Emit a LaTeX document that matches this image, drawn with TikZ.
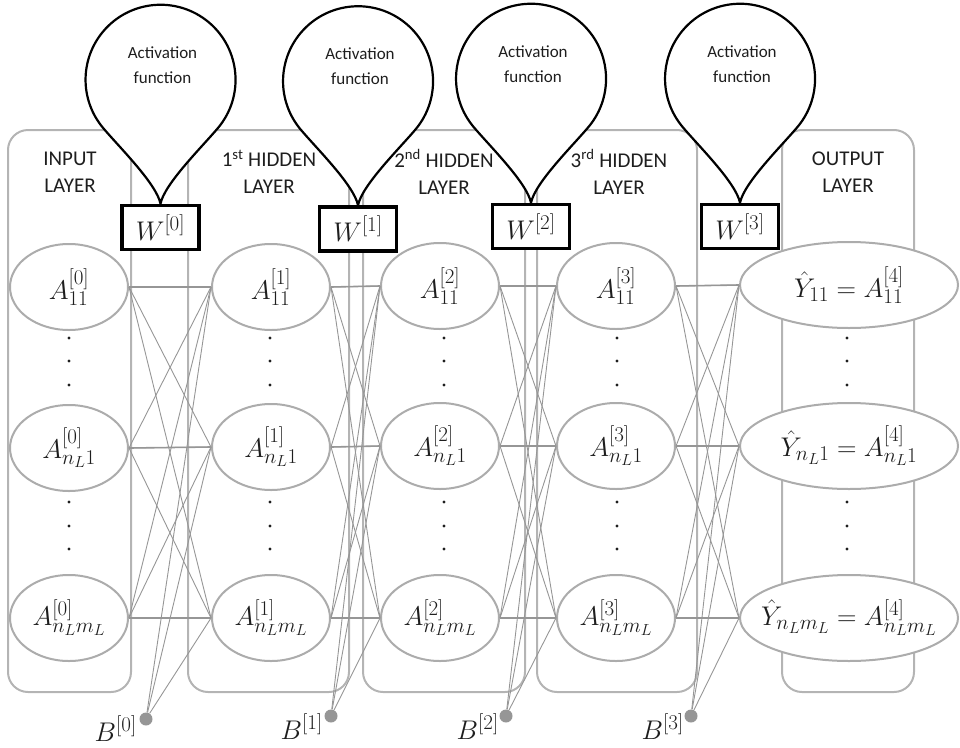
\RequirePackage{fix-cm}
\documentclass[tikz,border=0pt]{standalone}
\usepackage[no-math]{fontspec}
\setmainfont{Carlito}
\usetikzlibrary{shapes.geometric}
\DeclareMathSizes{27}{27}{21}{16}
\definecolor{boxgray}{RGB}{180,180,180}
\definecolor{ellgray}{RGB}{172,172,172}
\definecolor{linegray}{RGB}{150,150,150}
\definecolor{biasgray}{RGB}{150,150,150}
\definecolor{txt}{RGB}{30,30,30}
\pgfdeclarelayer{bg}
\pgfdeclarelayer{mid}
\pgfsetlayers{bg,mid,main}
\begin{document}
\begin{tikzpicture}[x=1pt,y=-1pt,
  layerbox/.style={draw=boxgray, line width=2pt, rounded corners=20pt, minimum height=562pt, inner sep=0pt},
  neuron/.style={ellipse, draw=ellgray, line width=2pt, fill=white, minimum width=118pt, minimum height=86pt, inner sep=0pt, text=txt, font=\fontsize{27}{32}\selectfont},
  outneuron/.style={neuron, minimum width=218pt, inner xsep=-40pt},
  wbox/.style={draw=black, line width=3.5pt, fill=white, minimum width=77pt, minimum height=44pt, inner sep=0pt, text=txt, font=\fontsize{27}{32}\selectfont},
  balloon/.style={draw=black, line width=2.2pt, fill=white},
  title/.style={align=center, text=txt, inner sep=0pt, font=\fontsize{21}{27}\selectfont},
  acttext/.style={align=center, text=txt, inner sep=0pt, font=\fontsize{17}{25}\selectfont},
  conn/.style={draw=linegray, line width=0.9pt},
  hconn/.style={draw=linegray, line width=1.6pt},
  biasdot/.style={circle, fill=biasgray, minimum size=13pt, inner sep=0pt},
  blabel/.style={inner sep=0pt, text=txt, font=\fontsize{27}{32}\selectfont},
  vdot/.style={circle, fill=txt, minimum size=3.2pt, inner sep=0pt}
]
\useasboundingbox (0,0) rectangle (960,747);

% layer boxes
\begin{pgfonlayer}{bg}
\node[layerbox, minimum width=123pt] (L0) at (69.5,411) {};
\node[layerbox, minimum width=161pt] (L1) at (268.5,411) {};
\node[layerbox, minimum width=162pt] (L2) at (444,411) {};
\node[layerbox, minimum width=160pt] (L3) at (617,411) {};
\node[layerbox, minimum width=132pt] (L4) at (848,411) {};
\end{pgfonlayer}

% neurons
\node[neuron] (n01) at (69,287) {$A^{[0]}_{11}$};
\node[neuron] (n02) at (69,448) {$A^{[0]}_{n_L1}$};
\node[neuron] (n03) at (69,618) {$A^{[0]}_{n_Lm_L}$};
\node[neuron] (n11) at (271,287) {$A^{[1]}_{11}$};
\node[neuron] (n12) at (271,447) {$A^{[1]}_{n_L1}$};
\node[neuron] (n13) at (271,618) {$A^{[1]}_{n_Lm_L}$};
\node[neuron] (n21) at (440,286) {$A^{[2]}_{11}$};
\node[neuron] (n22) at (440,446) {$A^{[2]}_{n_L1}$};
\node[neuron] (n23) at (440,618) {$A^{[2]}_{n_Lm_L}$};
\node[neuron] (n31) at (616,286) {$A^{[3]}_{11}$};
\node[neuron] (n32) at (616,446) {$A^{[3]}_{n_L1}$};
\node[neuron] (n33) at (616,618) {$A^{[3]}_{n_Lm_L}$};
\node[outneuron] (n41) at (849,285) {$\hat{Y}_{11}=A^{[4]}_{11}$};
\node[outneuron] (n42) at (849,446) {$\hat{Y}_{n_L1}=A^{[4]}_{n_L1}$};
\node[outneuron] (n43) at (849,618) {$\hat{Y}_{n_Lm_L}=A^{[4]}_{n_Lm_L}$};

% connections
\foreach \a/\b in {0/1,1/2,2/3,3/4}{
  \foreach \i in {1,2,3}{
    \foreach \j in {1,2,3}{
      \draw[conn] (n\a\i.east) -- (n\b\j.west);
    }
    \draw[hconn] (n\a\i.east) -- (n\b\i.west);
  }
}

% bias nodes
\node[biasdot] (B0) at (146,719) {};
\node[biasdot] (B1) at (331,716) {};
\node[biasdot] (B2) at (506,716) {};
\node[biasdot] (B3) at (691,716) {};
\foreach \a/\b in {0/1,1/2,2/3,3/4}{
  \foreach \j in {1,2,3}{
    \draw[conn] (B\a) -- (n\b\j.west);
  }
}
\node[blabel, anchor=east] (BL0) at (137,729) {$B^{[0]}$};
\node[blabel, anchor=east] (BL1) at (323,727) {$B^{[1]}$};
\node[blabel, anchor=east] (BL2) at (499,727) {$B^{[2]}$};
\node[blabel, anchor=east] (BL3) at (684,727) {$B^{[3]}$};

% vertical dots
\foreach \x in {69,270,444,617,847}{
  \foreach \y in {338,361,385,502,526,549}{
    \node[vdot] at (\x,\y) {};
  }
}

% weight boxes
\node[wbox] (W0) at (160.5,227.5) {$W^{[0]}$};
\node[wbox] (W1) at (358,229) {$W^{[1]}$};
\node[wbox] (W2) at (531,226.5) {$W^{[2]}$};
\node[wbox] (W3) at (740,226.5) {$W^{[3]}$};

% balloons
\begin{pgfonlayer}{mid}
\foreach \w in {W0,W1,W2,W3}{
  \filldraw[balloon] (\w.north) .. controls +(4,-20) and +(-16,19) .. ([shift={(57.5,-75.8)}]\w.north)
    arc[start angle=-40, end angle=220, radius=75pt]
    .. controls +(16,19) and +(-4,-20) .. (\w.north) -- cycle;
}
\end{pgfonlayer}
\foreach \w in {W0,W1,W2,W3}{
  \node[acttext] (act\w) at ([shift={(2,-139)}]\w.north) {Activation\\function};
}

% layer titles
\node[title] (T0) at (70,172) {INPUT\\LAYER};
\node[title] (T1) at (269,172) {1\textsuperscript{st} HIDDEN\\LAYER};
\node[title] (T2) at (444,172) {2\textsuperscript{nd} HIDDEN\\LAYER};
\node[title] (T3) at (619,172) {3\textsuperscript{rd} HIDDEN\\LAYER};
\node[title] (T4) at (848,172) {OUTPUT\\LAYER};
\end{tikzpicture}
\end{document}
